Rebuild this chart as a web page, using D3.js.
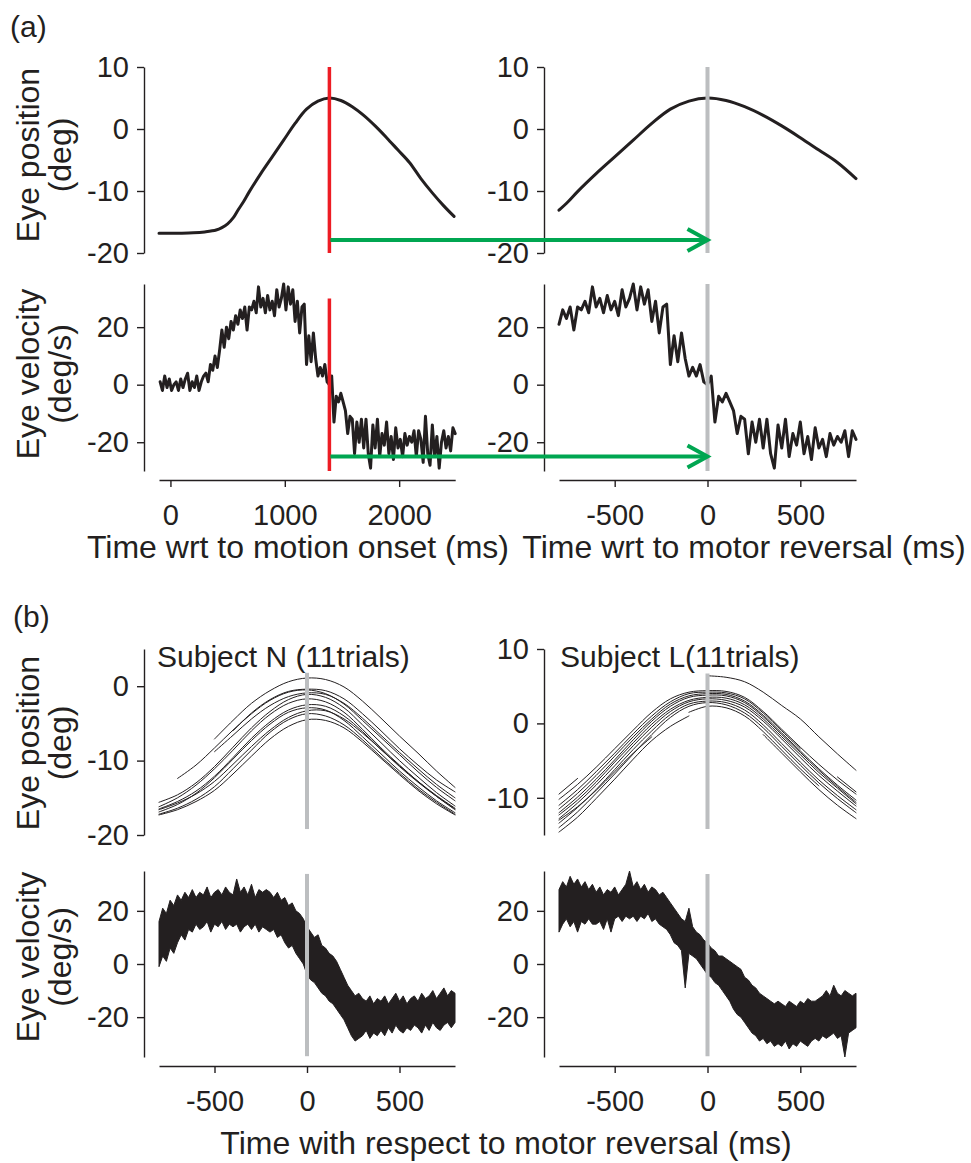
<!DOCTYPE html>
<html>
<head>
<meta charset="utf-8">
<script src="https://cdn.jsdelivr.net/npm/d3@7"></script>
<style>
  body { margin: 0; background: #fff; }
  text { font-family: "Liberation Sans", Arial, Helvetica, sans-serif; fill: #231f20; }
</style>
</head>
<body>
<svg id="fig" width="971" height="1163"></svg>
<script>
// ---- (a) single trial, time wrt motion onset ----
const reversalMs = 1390;

const posTime = [-100, 0, 100, 200, 300, 400, 450, 500, 550, 590, 640, 690, 790, 890, 990, 1090, 1190, 1290,
  1390, 1490, 1590, 1690, 1790, 1890, 1990, 2090, 2190, 2290, 2390, 2480];
const posTrial = [-16.8, -16.8, -16.8, -16.75, -16.6, -16.3, -15.9, -15.3, -14.3, -13.1, -11.7, -10.1, -7.2, -4.5, -1.8, 0.9, 3.2, 4.5,
  5.0, 4.6, 3.6, 2.2, 0.5, -1.4, -3.4, -5.4, -8.0, -10.3, -12.4, -14.1];

// eye velocity sampled every 20 ms starting at -90 ms
const velStartMs = -90, velStepMs = 20;
const velTrial = [
  1, -2, 3, -1, 2, -2, 0, 1, -2, 2,
  -1, 2, 4, -2, 1, -1, 3, -2, 1, 3,
  4, 1, 7, 5, 10, 6, 12, 19, 13, 20,
  16, 22, 19, 24, 21, 26, 23, 27, 19, 27,
  26, 29, 25, 34, 27, 30, 25, 31, 26, 29,
  24, 33, 27, 30, 35, 26, 34, 28, 33, 22,
  29, 18, 27, 28, 7, 17, 8, 18, 9, 3,
  6, 3, 7, 1, 0, 3, -13, -4, -6, -3,
  -6, -9, -17, -11, -12, -24, -13, -20, -12, -22,
  -12, -24, -29, -14, -22, -12, -25, -17, -21, -13,
  -24, -18, -26, -15, -22, -19, -25, -17, -21, -18,
  -20, -16, -25, -16, -19, -27, -11, -24, -28, -14,
  -25, -18, -29, -20, -16, -22, -18, -23, -15, -17
];

// ---- (b) 11 trials per subject, time wrt motor reversal ----
const bTime = [-800, -700, -600, -500, -400, -300, -200, -100, 0, 100, 200, 300, 400, 500, 600, 700, 800];
const posN = [
  [null, null, null, -7.1, -4.6, -2.3, -0.6, 0.6, 1.1, 0.9, -0.1, -2.0, -4.3, -6.7, -9.0, -11.4, -13.6],
  [null, null, null, null, -6.0, -3.6, -1.8, -0.7, -0.4, -0.6, -1.7, -3.7, -6.0, -8.4, -10.6, -12.6, -14.2],
  [null, -12.4, -10.6, -8.3, -5.9, -3.7, -1.9, -0.8, -0.5, -1.0, -2.4, -4.6, -6.9, -9.2, -11.5, -13.6, -15.4],
  [null, null, null, -8.8, -6.6, -4.4, -2.6, -1.4, -0.9, -1.1, -2.3, -4.3, -6.6, -8.9, -11.1, -13.2, -15.0],
  [-15.6, -14.6, -13.0, -10.8, -8.2, -5.6, -3.4, -1.8, -1.1, -1.5, -2.9, -5.2, -7.6, -10.0, -12.2, -14.3, -16.1],
  [-16.2, -15.0, -13.3, -11.1, -8.6, -6.0, -3.8, -2.3, -1.7, -2.1, -3.5, -5.8, -8.3, -10.6, -12.8, -14.8, -16.6],
  [-16.5, -15.5, -14.1, -12.1, -9.6, -7.0, -4.8, -3.2, -2.5, -2.7, -4.0, -6.1, -8.5, -10.7, -12.8, -14.7, -16.4],
  [-16.9, -15.9, -14.4, -12.3, -9.8, -7.3, -5.1, -3.5, -2.9, -3.2, -4.6, -6.8, -9.1, -11.4, -13.5, -15.4, -17.0],
  [-16.6, -15.7, -14.5, -12.8, -10.5, -8.1, -5.9, -4.2, -3.3, -3.3, -4.4, -6.3, -8.5, -10.8, -12.9, -14.8, -16.5],
  [-17.2, -16.4, -15.2, -13.5, -11.1, -8.6, -6.2, -4.5, -3.7, -4.0, -5.2, -7.2, -9.5, -11.7, -13.8, -15.6, -17.2],
  [-17.3, -16.6, -15.5, -14.0, -11.8, -9.4, -7.1, -5.4, -4.5, -4.6, -5.6, -7.5, -9.7, -11.9, -14.0, -15.8, -17.3]
];
const posL = [
  [-9.5, -7.4, null, null, null, null, null, null, 6.4, 6.2, 5.6, 4.2, 2.4, 0.6, -1.8, -4.1, -6.3],
  [-10.2, -8.2, -5.9, -3.4, -0.9, 1.5, 3.3, 4.2, 4.4, 4.3, 3.5, 1.6, -0.8, -3.2, -5.5, -7.6, -9.5],
  [-11.0, -8.9, -6.5, -4.0, -1.4, 1.0, 2.9, 4.0, 4.2, 4.1, 3.3, 1.4, -1.0, -3.4, null, -7.2, -9.2],
  [-11.5, -9.4, -7.0, -4.4, -1.8, 0.6, 2.6, 3.7, 4.0, 3.9, 3.0, 1.1, -1.3, -3.7, -6.1, -8.3, -10.3],
  [-12.0, -9.9, -7.5, -4.9, -2.2, 0.3, 2.3, 3.5, 3.8, 3.7, 2.8, 0.9, -1.5, -3.9, -6.3, -8.5, -10.6],
  [-12.3, -10.3, -7.9, -5.2, -2.6, -0.1, 1.9, 3.1, 3.5, 3.4, 2.5, 0.6, -1.8, -4.2, -6.6, -8.7, -10.8],
  [-12.8, -10.7, -8.3, -5.7, -3.0, -0.5, 1.6, 2.9, 3.3, 3.1, 2.2, 0.3, -2.1, -4.6, -7.0, -9.1, -11.1],
  [-13.4, -11.3, -8.9, -6.2, -3.5, -1.0, 1.2, 2.6, 3.0, 2.8, 1.8, -0.2, -2.7, -5.2, -7.6, -9.7, -11.6],
  [-14.0, -11.9, -9.4, -6.8, -4.1, -1.5, 0.8, 2.3, 2.8, 2.5, 1.4, -0.6, -3.1, -5.6, -8.0, -10.1, -12.0],
  [-14.6, -12.6, -10.1, -7.5, -4.8, -2.3, -0.4, 1.0, null, null, null, -1.5, -4.0, -6.5, -8.9, -11.0, -12.8],
  [-13.0, -11.2, -9.0, -6.5, -4.0, -1.8, null, 1.5, 2.3, 2.1, 1.0, -1.1, -3.6, -6.1, -8.4, null, null]
];

// velocity bundles: upper / lower edge of the 11 overlaid traces, every 20 ms from -800 ms
const bandStartMs = -800, bandStepMs = 20;
const bandN_hi = [
  16, 21, 19, 24, 22, 26, 24, 27, 25, 28,
  25, 27, 26, 29, 25, 27, 28, 26, 29, 27,
  26, 32, 27, 29, 26, 30, 25, 28, 27, 28,
  27, 25, 27, 24, 25, 22, 23, 20, 19, 17,
  14, 12, 10, 11, 7, 6, 4, 3, 1, -2,
  -5, -8, -10, -12, -11, -13, -14, -12, -15, -13,
  -14, -12, -15, -13, -11, -14, -12, -15, -13, -12,
  -14, -11, -13, -12, -10, -13, -11, -9, -12, -10,
  -11];
const bandN_lo = [
  -1, 3, 1, 6, 4, 8, 11, 9, 13, 12,
  15, 13, 14, 16, 12, 15, 14, 16, 13, 15,
  14, 15, 12, 14, 15, 13, 15, 12, 14, 13,
  12, 13, 10, 11, 8, 6, 7, 4, 2, 0,
  -4, -6, -7, -9, -11, -12, -14, -15, -17, -19,
  -21, -24, -27, -29, -28, -27, -25, -28, -26, -27,
  -25, -27, -24, -26, -23, -25, -26, -24, -25, -23,
  -24, -26, -23, -25, -22, -24, -25, -23, -22, -24,
  -22];
const bandL_hi = [
  28, 31, 29, 33, 30, 32, 29, 31, 28, 30,
  27, 29, 26, 28, 27, 29, 26, 28, 30, 35,
  29, 31, 28, 30, 27, 29, 28, 26, 27, 25,
  23, 21, 19, 17, 16, 21, 14, 12, 11, 9,
  8, 6, 5, 3, 3, 2, 1, 0, -1, -2,
  -5, -6, -8, -9, -11, -12, -13, -14, -15, -14,
  -15, -16, -14, -15, -16, -14, -15, -13, -14, -14,
  -13, -12, -10, -12, -8, -11, -12, -10, -11, -12,
  -11];
const bandL_lo = [
  12, 15, 17, 14, 16, 12, 16, 15, 17, 15,
  15, 16, 13, 17, 12, 17, 18, 16, 18, 17,
  18, 16, 18, 17, 19, 16, 17, 15, 14, 13,
  11, 8, 7, 5, -9, 4, 3, 2, 0, -2,
  -4, -5, -7, -8, -10, -12, -14, -17, -19, -20,
  -22, -24, -26, -27, -29, -28, -30, -29, -31, -30,
  -31, -29, -32, -30, -31, -29, -30, -31, -29, -28,
  -29, -27, -28, -27, -26, -28, -27, -35, -26, -25,
  -24];

// ---- drawing ----
const ink = "#231f20", red = "#ed1c24", green = "#00a651", grey = "#bcbec0";
const svg = d3.select("#fig");
svg.append("rect").attr("width", 971).attr("height", 1163).attr("fill", "#fff");

// scales
const xA = d3.scaleLinear().domain([-100, 2490]).range([159, 455.2]);
const xL = d3.scaleLinear().domain([-800, 800]).range([159, 455]);
const xR = d3.scaleLinear().domain([-800, 800]).range([559, 856]);
const yAPos = d3.scaleLinear().domain([-20, 10]).range([253, 67]);
const yAVel = d3.scaleLinear().domain([-30, 35]).range([471, 284]);
const yBPosN = d3.scaleLinear().domain([-20, 5]).range([835, 649]);
const yBPosL = d3.scaleLinear().domain([-15, 10]).range([835, 649]);
const yBVel = d3.scaleLinear().domain([-35, 35]).range([1057, 871]);

function styleAxis(g) {
  g.attr("font-family", null).attr("font-size", null);
  g.selectAll("path, line").attr("stroke", ink).attr("stroke-width", 1.4);
  g.selectAll("text").style("font-size", "29px");
}
function yAxis(x, scale, ticks) {
  svg.append("g").attr("transform", `translate(${x},0)`)
    .call(d3.axisLeft(scale).tickValues(ticks).tickFormat(d => String(d))
      .tickSize(7).tickSizeOuter(0).tickPadding(8))
    .call(styleAxis);
}
function xAxis(y, scale, ticks) {
  svg.append("g").attr("transform", `translate(0,${y})`)
    .call(d3.axisBottom(scale).tickValues(ticks).tickFormat(d => String(d))
      .tickSize(7).tickSizeOuter(0).tickPadding(17))
    .call(styleAxis);
}
function yLabel(lines, cy) {
  const g = svg.append("g").attr("transform", `translate(0,${cy}) rotate(-90)`);
  g.append("text").attr("y", 39).attr("text-anchor", "middle").style("font-size", "32px").text(lines[0]);
  g.append("text").attr("y", 71).attr("text-anchor", "middle").style("font-size", "32px").text(lines[1]);
}
function vline(x, y1, y2, color, w) {
  svg.append("line").attr("x1", x).attr("x2", x).attr("y1", y1).attr("y2", y2)
    .attr("stroke", color).attr("stroke-width", w);
}
function arrow(x1, x2, y) {
  svg.append("line").attr("x1", x1).attr("x2", x2 - 2).attr("y1", y).attr("y2", y)
    .attr("stroke", green).attr("stroke-width", 4);
  svg.append("path").attr("d", `M${x2 - 20},${y - 11}L${x2},${y}L${x2 - 20},${y + 11}`)
    .attr("fill", "none").attr("stroke", green).attr("stroke-width", 4);
}
function trace(pts, x, y, w, curve) {
  svg.append("path").datum(pts)
    .attr("d", d3.line().defined(d => d[1] != null).x(d => x(d[0])).y(d => y(d[1])).curve(curve))
    .attr("fill", "none").attr("stroke", ink).attr("stroke-width", w)
    .attr("stroke-linejoin", "round").attr("stroke-linecap", "round");
}

const posPts = posTime.map((t, i) => [t, posTrial[i]]);
const velPts = velTrial.map((v, i) => [velStartMs + i * velStepMs, v]);
const rel = pts => pts.map(d => [d[0] - reversalMs, d[1]]).filter(d => d[0] >= -800 && d[0] <= 800);

// (a) left column
yAxis(144, yAPos, [-20, -10, 0, 10]);
yAxis(144, yAVel, [-20, 0, 20]);
xAxis(480, xA, [0, 1000, 2000]);
trace(posPts, xA, yAPos, 3, d3.curveCatmullRom);
trace(velPts, xA, yAVel, 3, d3.curveLinear);

// (a) right column
yAxis(544, yAPos, [-20, -10, 0, 10]);
yAxis(544, yAVel, [-20, 0, 20]);
xAxis(480, xR, [-500, 0, 500]);
trace(rel(posPts), xR, yAPos, 3, d3.curveCatmullRom);
trace(rel(velPts), xR, yAVel, 3, d3.curveLinear);
vline(xR(0), yAPos(10), yAPos(-20), grey, 4);
vline(xR(0), yAVel(35), yAVel(-30), grey, 4);

vline(xA(reversalMs), yAPos(10), yAPos(-20), red, 3.5);
vline(xA(reversalMs), yAVel(30), yAVel(-30), red, 3.5);
arrow(xA(reversalMs) + 1, xR(0), yAPos(-17.9));
arrow(xA(reversalMs) + 1, xR(0), yAVel(-25));

yLabel(["Eye position", "(deg)"], 155);
yLabel(["Eye velocity", "(deg/s)"], 374);
svg.append("text").attr("x", 298).attr("y", 558).attr("text-anchor", "middle")
  .style("font-size", "32px").text("Time wrt to motion onset (ms)");
svg.append("text").attr("x", 744).attr("y", 558).attr("text-anchor", "middle")
  .style("font-size", "32px").text("Time wrt to motor reversal (ms)");
svg.append("text").attr("x", 10).attr("y", 37).style("font-size", "30px").text("(a)");

// (b)
yAxis(144, yBPosN, [-20, -10, 0]);
yAxis(544, yBPosL, [-10, 0, 10]);
yAxis(144, yBVel, [-20, 0, 20]);
yAxis(544, yBVel, [-20, 0, 20]);
xAxis(1066, xL, [-500, 0, 500]);
xAxis(1066, xR, [-500, 0, 500]);

posN.forEach(tr => trace(bTime.map((t, i) => [t, tr[i]]), xL, yBPosN, 1, d3.curveCatmullRom));
posL.forEach(tr => trace(bTime.map((t, i) => [t, tr[i]]), xR, yBPosL, 1, d3.curveCatmullRom));

function band(hi, lo, x) {
  const pts = hi.map((v, i) => ({ t: bandStartMs + i * bandStepMs, hi: v, lo: lo[i] }));
  svg.append("path").datum(pts)
    .attr("d", d3.area().x(d => x(d.t)).y0(d => yBVel(d.lo)).y1(d => yBVel(d.hi)))
    .attr("fill", ink).attr("stroke", ink).attr("stroke-width", 1).attr("stroke-linejoin", "round");
}
band(bandN_hi, bandN_lo, xL);
band(bandL_hi, bandL_lo, xR);

vline(xL(0), yBPosN(1.8), yBPosN(-19.2), grey, 4);
vline(xR(0), yBPosL(6.7), yBPosL(-14.2), grey, 4);
vline(xL(0), yBVel(33.9), yBVel(-34.7), grey, 4);
vline(xR(0), yBVel(33.9), yBVel(-34.7), grey, 4);

yLabel(["Eye position", "(deg)"], 743);
yLabel(["Eye velocity", "(deg/s)"], 957);
svg.append("text").attr("x", 157).attr("y", 667).style("font-size", "30px").text("Subject N (11trials)");
svg.append("text").attr("x", 560).attr("y", 667).style("font-size", "30px").text("Subject L(11trials)");
svg.append("text").attr("x", 506).attr("y", 1154).attr("text-anchor", "middle")
  .style("font-size", "32px").text("Time with respect to motor reversal (ms)");
svg.append("text").attr("x", 13).attr("y", 627).style("font-size", "30px").text("(b)");
</script>
</body>
</html>
